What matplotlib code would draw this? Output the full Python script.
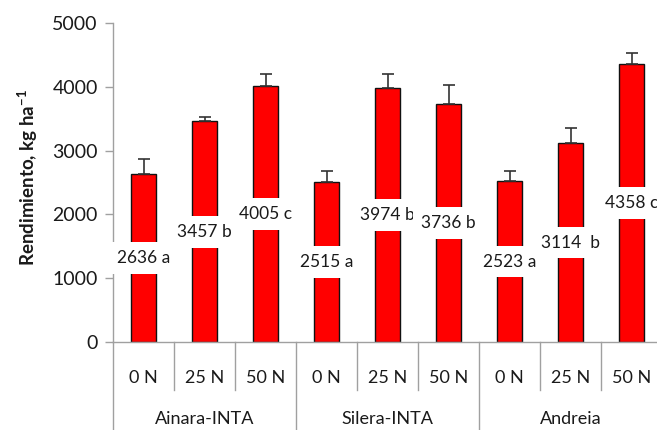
import matplotlib
matplotlib.use("Agg")
import matplotlib.pyplot as plt
from matplotlib.transforms import blended_transform_factory
from matplotlib.lines import Line2D

plt.rcParams['font.family'] = ['Lato', 'DejaVu Sans']
plt.rcParams['mathtext.fontset'] = 'custom'
plt.rcParams['mathtext.rm'] = 'Lato'
plt.rcParams['mathtext.bf'] = 'Lato:bold'

# Yield per cultivar and nitrogen dose
cultivars = ["Ainara-INTA", "Silera-INTA", "Andreia"]
doses = ["0 N", "25 N", "50 N"]
yields = [2636, 3457, 4005, 2515, 3974, 3736, 2523, 3114, 4358]
errors = [225, 75, 200, 170, 220, 290, 165, 245, 170]
letters = ["a", "b", "c", "a", "b", "b", "a", " b", "c"]

W, H = 657, 430
fig = plt.figure(figsize=(W / 100, H / 100), dpi=100)

x0, x1 = 113, 662
y_top, y_zero = 23, 342
ax = fig.add_axes([x0 / W, 1 - y_zero / H, (x1 - x0) / W, (y_zero - y_top) / H])

grey = '#a0a0a0'
n = len(yields)
xs = list(range(n))

ax.bar(xs, yields, width=0.4, color='#ff0000', edgecolor='#111111',
       linewidth=1.0, zorder=2)
ax.errorbar(xs, yields, yerr=[[0] * n, errors], fmt='none',
            ecolor='#333333', elinewidth=1.2, capsize=4.3, capthick=1.2,
            zorder=3)

for x, v, l in zip(xs, yields, letters):
    ax.text(x, v / 2, f"{v} {l}", ha='center', va='center', fontsize=12.5,
            color='#1a1a1a', zorder=5, clip_on=False,
            bbox=dict(boxstyle='square,pad=0.45', facecolor='white',
                      edgecolor='none'))

ax.set_xlim(-0.5, n - 0.5)
ax.set_ylim(0, 5000)
ax.set_yticks([0, 1000, 2000, 3000, 4000, 5000])
ax.tick_params(axis='y', direction='out', length=6, width=1, color=grey,
               labelsize=14, labelcolor='#1a1a1a', pad=5)
ax.set_xticks([])
for s in ['top', 'right']:
    ax.spines[s].set_visible(False)
for s in ['left', 'bottom']:
    ax.spines[s].set_color(grey)
    ax.spines[s].set_linewidth(1.0)
ax.set_facecolor('none')

# Two-level category axis below the plot
tr = blended_transform_factory(ax.transData, fig.transFigure)


def fy(py):
    return 1 - py / H


for i, d in enumerate(doses * len(cultivars)):
    ax.text(i, fy(378), d, transform=tr, ha='center', va='center',
            fontsize=13, color='#1a1a1a', clip_on=False)
for g, name in enumerate(cultivars):
    ax.text(3 * g + 1, fy(419), name, transform=tr, ha='center',
            va='center', fontsize=13, color='#1a1a1a', clip_on=False)

for i in range(n + 1):
    xb = i - 0.5
    bottom = fy(H) if i % 3 == 0 else fy(390)
    ax.add_line(Line2D([xb, xb], [fy(y_zero), bottom], transform=tr,
                       color=grey, linewidth=1.0, clip_on=False))

fig.text(28 / W, fy(178), r"Rendimiento, kg ha$^{\mathbf{-1}}$",
         rotation=90, ha='center', va='center', fontsize=13.5,
         fontweight='bold', color='#1a1a1a')

fig.savefig("out.png", dpi=100, facecolor='white')
